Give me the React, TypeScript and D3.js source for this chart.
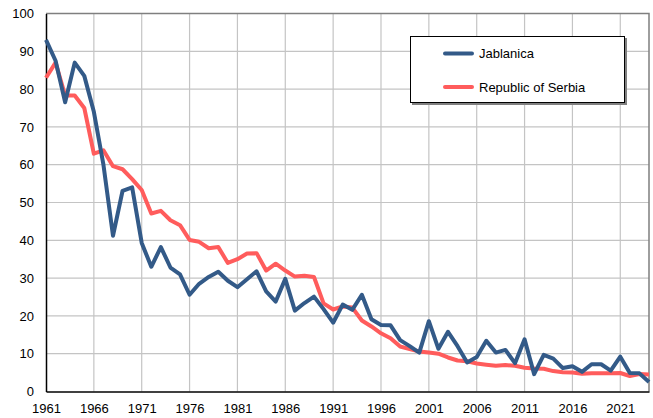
import React, { useRef, useEffect } from 'react'
import * as d3 from 'd3'

const years: number[] = d3.range(1961, 2025)

const jablanica: number[] = [
  93, 87.5, 76.5, 87, 83.5, 74, 60, 41.2, 53.1, 54,
  39.3, 33, 38.2, 32.8, 31, 25.6, 28.5, 30.3, 31.7, 29.3,
  27.6, 29.7, 31.8, 26.5, 23.8, 29.8, 21.4, 23.4, 25.1, 21.8,
  18.2, 23, 21.6, 25.6, 19.1, 17.6, 17.5, 13.6, 12, 10.3,
  18.6, 11.3, 15.8, 12, 7.7, 9.1, 13.4, 10.3, 11, 7.5,
  13.8, 4.6, 9.7, 8.7, 6.2, 6.7, 5.2, 7.2, 7.2, 5.5,
  9.2, 4.9, 4.8, 2.5,
]

const serbia: number[] = [
  83, 87, 78.3, 78.3, 75, 62.9, 63.8, 59.6, 58.8, 56.2,
  53.3, 47.1, 47.8, 45.3, 44, 40.1, 39.6, 37.9, 38.2, 34,
  35, 36.5, 36.6, 32, 33.8, 32, 30.4, 30.6, 30.3, 23.3,
  21.7, 22.5, 22.2, 18.8, 17.2, 15.4, 14.1, 11.9, 11.2, 10.6,
  10.3, 10, 9, 8.2, 8, 7.4, 7.1, 6.8, 7, 6.8,
  6.3, 6.1, 6, 5.4, 5.1, 5, 4.7, 4.8, 4.8, 4.8,
  4.9, 4.1, 4.6, 4.5,
]

const seriesNames: string[] = ['Jablanica', 'Republic of Serbia']
const seriesColors: string[] = ['#335a88', '#ff5c5c']
const xTicks: number[] = d3.range(1961, 2025, 5)
const yTicks: number[] = d3.range(0, 101, 10)

function App() {
  const svgRef = useRef<SVGSVGElement>(null)

  useEffect(() => {
    const width = 653
    const height = 418
    const m = { left: 46, right: 4, top: 13.5, bottom: 26.5 }
    const font = "'Liberation Sans', Arial, sans-serif"

    const svg = d3.select(svgRef.current)
    svg.selectAll('*').remove()
    svg.attr('width', width).attr('height', height)

    const x = d3.scaleLinear().domain([1961, 2024]).range([m.left, width - m.right])
    const y = d3.scaleLinear().domain([0, 100]).range([height - m.bottom, m.top])

    // gridlines
    svg.append('g')
      .selectAll('line.v')
      .data(xTicks.slice(1))
      .join('line')
      .attr('x1', d => x(d)).attr('x2', d => x(d))
      .attr('y1', y(0)).attr('y2', y(100))
      .attr('stroke', '#c4c4c4').attr('stroke-width', 1.2)
    svg.append('g')
      .selectAll('line.h')
      .data(yTicks.slice(1))
      .join('line')
      .attr('x1', x(1961)).attr('x2', x(2024))
      .attr('y1', d => y(d)).attr('y2', d => y(d))
      .attr('stroke', '#c4c4c4').attr('stroke-width', 1.2)

    // plot border top/right
    svg.append('path')
      .attr('d', `M${x(1961)},${y(100)}H${x(2024)}V${y(0)}`)
      .attr('fill', 'none').attr('stroke', '#7f7f7f').attr('stroke-width', 1.5)

    // axes
    const xAxis = svg.append('g')
      .attr('transform', `translate(0,${y(0)})`)
      .call(d3.axisBottom(x).tickValues(xTicks).tickFormat(d3.format('d')).tickSize(0).tickPadding(12))
    const yAxis = svg.append('g')
      .attr('transform', `translate(${x(1961)},0)`)
      .call(d3.axisLeft(y).tickValues(yTicks).tickSize(0).tickPadding(12))
    ;[xAxis, yAxis].forEach(g => {
      g.select('.domain').attr('stroke', '#000').attr('stroke-width', 1.5)
      g.selectAll('text').attr('font-family', font).attr('font-size', 13).attr('fill', '#000')
    })

    // lines
    const allSeries = [jablanica, serbia]
    const line = d3.line<number>()
      .x((_, i) => x(years[i]))
      .y(d => y(d))
    svg.append('g')
      .selectAll('path')
      .data(allSeries.slice().reverse())
      .join('path')
      .attr('d', d => line(d))
      .attr('fill', 'none')
      .attr('stroke', (_, i) => seriesColors[1 - i])
      .attr('stroke-width', 4)
      .attr('stroke-linejoin', 'round')

    // legend
    const lg = svg.append('g').attr('transform', 'translate(410,36)')
    lg.append('rect').attr('x', 2).attr('y', 2).attr('width', 215).attr('height', 67).attr('fill', '#808080')
    lg.append('rect').attr('x', 0.5).attr('y', 0.5).attr('width', 214).attr('height', 66)
      .attr('fill', '#fff').attr('stroke', '#000').attr('stroke-width', 1)
    seriesNames.forEach((name, i) => {
      const yy = 17.5 + i * 33.5
      lg.append('line').attr('x1', 35).attr('x2', 62).attr('y1', yy).attr('y2', yy)
        .attr('stroke', seriesColors[i]).attr('stroke-width', 4).attr('stroke-linecap', 'round')
      lg.append('text').attr('x', 69).attr('y', yy).attr('dy', '0.35em')
        .attr('font-family', font).attr('font-size', 13).attr('fill', '#000')
        .text(name)
    })
  }, [])

  return <svg ref={svgRef} style={{ position: 'absolute', left: 0, top: 0 }}></svg>
}

export default App
